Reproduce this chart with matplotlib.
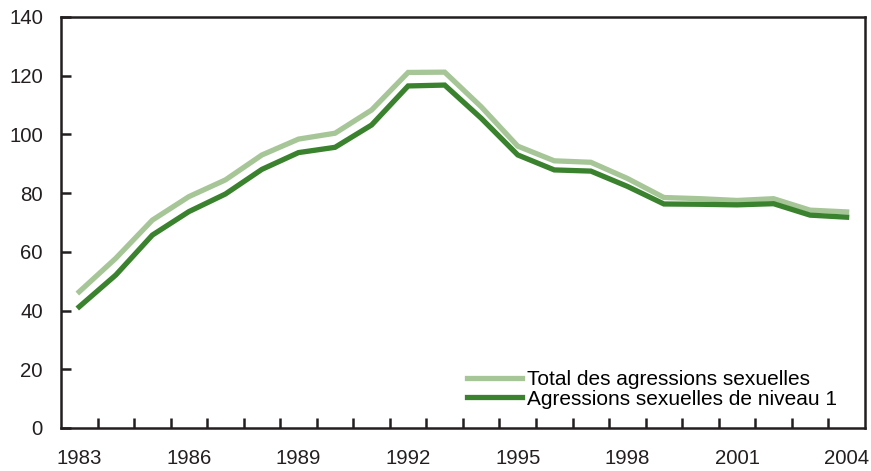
import matplotlib.pyplot as plt
from matplotlib.ticker import FixedLocator

plt.rcParams['font.family'] = ['Liberation Sans', 'DejaVu Sans']

# Data
years = list(range(1983, 2005))
total = [46.4, 57.8, 70.8, 78.8, 84.5, 93.0, 98.4, 100.4, 108.3, 121.1, 121.2,
         109.4, 96.0, 91.0, 90.5, 85.0, 78.5, 78.1, 77.5, 78.1, 74.2, 73.6]
niveau1 = [41.3, 52.1, 65.7, 73.7, 79.7, 88.1, 93.8, 95.6, 103.2, 116.5, 116.8,
           105.5, 93.0, 87.9, 87.5, 82.3, 76.3, 76.2, 76.0, 76.4, 72.5, 71.8]
labels = ['Total des agressions sexuelles', 'Agressions sexuelles de niveau 1']

fig = plt.figure(figsize=(8.71, 4.71), dpi=100)
ax = fig.add_axes([0.070, 0.0913, 0.923, 0.8727])

ax.plot(years, total, color='#a6c698', lw=3.8, label=labels[0], solid_joinstyle='miter')
ax.plot(years, niveau1, color='#3a822e', lw=3.8, label=labels[1], solid_joinstyle='miter')

ax.set_xlim(1982.5, 2004.5)
ax.set_ylim(0, 140)
ax.set_yticks(range(0, 141, 20))
ax.set_xticks(range(1983, 2005, 3))
ax.xaxis.set_minor_locator(FixedLocator([y + 0.5 for y in range(1983, 2004)]))

for s in ax.spines.values():
    s.set_linewidth(1.8)
    s.set_color('#231f20')
ax.tick_params(axis='y', direction='in', length=7, width=1.8, labelsize=14.7,
               pad=13, colors='#231f20')
ax.tick_params(axis='x', which='major', length=0, labelsize=14.7, pad=15,
               colors='#231f20')
ax.tick_params(axis='x', which='minor', direction='in', length=7, width=1.8,
               color='#231f20')

ax.legend(loc='lower left', bbox_to_anchor=(0.505, 0.047), frameon=False,
          fontsize=15, handlelength=2.65, handletextpad=0.24, labelspacing=0.02,
          borderpad=0, borderaxespad=0)

fig.savefig('out.png', dpi=100)
